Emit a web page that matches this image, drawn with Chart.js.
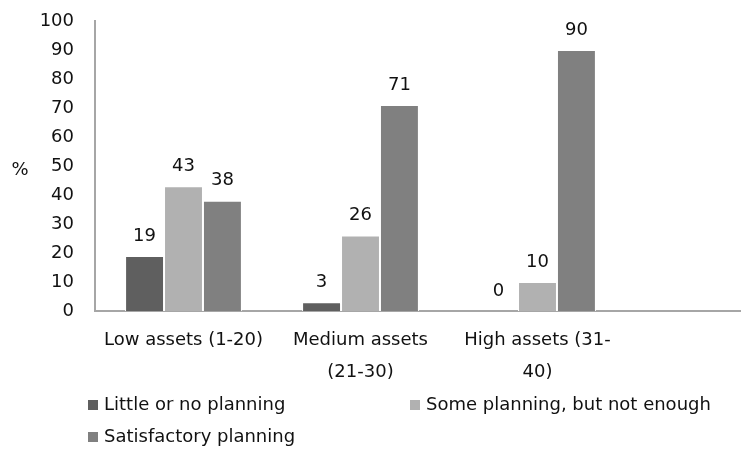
<!DOCTYPE html>
<html>
<head>
<meta charset="utf-8">
<script src="https://cdn.jsdelivr.net/npm/chart.js@4.4.1/dist/chart.umd.min.js"></script>
<style>
  html, body { margin: 0; padding: 0; background: #fff; overflow: hidden; }
  #wrap { width: 741px; height: 450px; overflow: hidden; }
</style>
</head>
<body>
<div id="wrap"><canvas id="myChart" width="810" height="450"></canvas></div>
<script>
// categories (the 4th is empty, as in the original sheet)
const categories = ['Low assets (1-20)', ['Medium assets', '(21-30)'], ['High assets (31-', '40)'], ''];
const seriesNames = ['Little or no planning', 'Some planning, but not enough', 'Satisfactory planning'];
const littleOrNone = [19, 3, 0, null];
const someNotEnough = [43, 26, 10, null];
const satisfactory = [38, 71, 90, null];
const yMin = 0, yMax = 100, yStep = 10;

const FONT = 'DejaVu Sans';
const TEXT = '#111111';

// value labels over the bars
const valueLabels = {
  id: 'valueLabels',
  afterDatasetsDraw(chart) {
    const ctx = chart.ctx;
    ctx.save();
    ctx.font = '18px "' + FONT + '"';
    ctx.fillStyle = TEXT;
    ctx.textAlign = 'center';
    ctx.textBaseline = 'middle';
    chart.data.datasets.forEach((ds, i) => {
      chart.getDatasetMeta(i).data.forEach((bar, j) => {
        if (ds.data[j] == null) return;
        ctx.fillText(String(ds.data[j]), bar.x, bar.y - 20);
      });
    });
    ctx.restore();
  }
};

// "%" axis title and the two-column legend
const extras = {
  id: 'extras',
  afterDraw(chart) {
    const ctx = chart.ctx;
    ctx.save();
    ctx.font = '18px "' + FONT + '"';
    ctx.fillStyle = TEXT;
    ctx.textBaseline = 'middle';
    ctx.textAlign = 'center';
    ctx.fillText('%', 20, 170);

    const spots = [[88, 405], [410, 405], [88, 437]];
    ctx.textAlign = 'left';
    chart.data.datasets.forEach((ds, i) => {
      const [x, y] = spots[i];
      ctx.fillStyle = ds.backgroundColor;
      ctx.fillRect(x, y - 5, 10, 10);
      ctx.fillStyle = TEXT;
      ctx.fillText(ds.label, x + 16, y);
    });
    ctx.restore();
  }
};

const ctx = document.getElementById('myChart').getContext('2d');
new Chart(ctx, {
  type: 'bar',
  data: {
    labels: categories,
    datasets: [
      { label: seriesNames[0], data: littleOrNone, backgroundColor: '#5f5f5f' },
      { label: seriesNames[1], data: someNotEnough, backgroundColor: '#b1b1b1' },
      { label: seriesNames[2], data: satisfactory, backgroundColor: '#808080' }
    ]
  },
  options: {
    responsive: false,
    animation: false,
    layout: { padding: { left: 0, right: 7, top: 21, bottom: 0 } },
    datasets: {
      bar: {
        categoryPercentage: 0.66,
        barPercentage: 1,
        borderColor: '#ffffff',
        borderWidth: 1,
        borderSkipped: 'bottom'
      }
    },
    plugins: {
      legend: { display: false },
      tooltip: { enabled: false }
    },
    scales: {
      x: {
        grid: { display: false, drawTicks: false },
        border: { display: true, color: '#a6a6a6', width: 2 },
        ticks: {
          color: TEXT,
          font: { family: FONT, size: 18, lineHeight: 1.78 },
          padding: 13,
          maxRotation: 0,
          autoSkip: false
        },
        afterFit(scale) { scale.height = 139; }
      },
      y: {
        min: yMin,
        max: yMax,
        grid: { display: false, drawTicks: false },
        border: { display: true, color: '#a6a6a6', width: 2 },
        ticks: {
          stepSize: yStep,
          color: TEXT,
          font: { family: FONT, size: 18 },
          padding: 21
        },
        afterFit(scale) {
          scale.width = 95;
          scale.paddingTop = 0;
          scale.paddingBottom = 0;
        }
      }
    }
  },
  plugins: [valueLabels, extras]
});
</script>
</body>
</html>
